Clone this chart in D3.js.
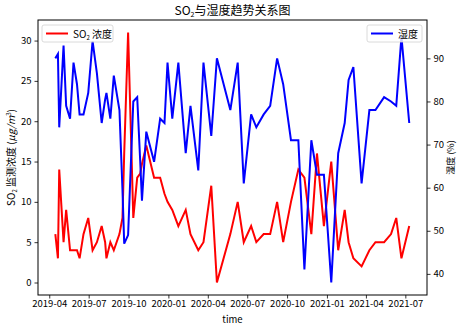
<!DOCTYPE html>
<html>
<head>
<meta charset="utf-8">
<script src="https://cdn.jsdelivr.net/npm/d3@7"></script>
<style>
  body { margin: 0; background: #fff; }
  text { font-family: "Noto Sans CJK SC", "DejaVu Sans", sans-serif; }
</style>
</head>
<body>
<div id="chart"></div>
<script>
// sample dates
var dates = ["2019-04-15","2019-04-21","2019-04-24","2019-05-04","2019-05-10","2019-05-19","2019-05-27",
  "2019-06-04","2019-06-10","2019-06-19","2019-06-30","2019-07-10","2019-07-20","2019-07-31","2019-08-08",
  "2019-08-11","2019-08-20","2019-08-28","2019-09-10","2019-09-17","2019-09-21","2019-09-30","2019-10-12",
  "2019-10-21","2019-10-28","2019-11-01","2019-11-11","2019-11-29","2019-12-13","2019-12-23","2019-12-30",
  "2020-01-10","2020-01-24","2020-02-10","2020-02-21","2020-03-10","2020-03-22","2020-04-09","2020-04-22",
  "2020-05-23","2020-06-09","2020-06-23","2020-07-10","2020-07-22","2020-08-08","2020-08-23","2020-09-08",
  "2020-09-22","2020-10-10","2020-10-27","2020-11-10","2020-11-26","2020-12-09","2020-12-25","2021-01-11",
  "2021-01-27","2021-02-11","2021-02-20","2021-03-03","2021-03-22","2021-04-09","2021-04-23","2021-05-13",
  "2021-05-29","2021-06-10","2021-06-22","2021-07-10"];

// SO2 concentration (left axis)
var so2 = [6,3,14,5,9,4,4,
  4,3,6,8,4,5,7,5,
  3,5,4,6,8,16,31,8,
  13,13.5,14.7,17,13,13,11,10,
  9,7,9,6,4,5,12,0,
  6,10,5,7,5,6,6,10,
  5,10,14,13,6,16,7,15,
  4,9,5,3,2,4,5,5,
  6,8,3,7];

// humidity (right axis)
var humidity = [90,91,74,93,79,76,89,
  84,77,77,82,94,86.5,75,80.5,
  82,76,86,78,59.5,47,49,80,
  81,66,57,73,66,76,75,89,
  76,89,68,79,64,89,72,90,
  78,89,61,77,74,77,79,90,
  84,71,71,41,71,63,63,38,
  68,75,85,88,61,78,78,81,
  80,79,95,75];

var leftTicks = [0,5,10,15,20,25,30];
var rightTicks = [40,50,60,70,80,90];
var xTicks = ["2019-04","2019-07","2019-10","2020-01","2020-04","2020-07","2020-10","2021-01","2021-04","2021-07"];

var W = 462, H = 327;
var m = {left: 38, right: 35, top: 20, bottom: 32};
var pw = W - m.left - m.right, ph = H - m.top - m.bottom;

var parse = d3.timeParse("%Y-%m-%d");
var parseM = d3.timeParse("%Y-%m");
var t = dates.map(parse);

var x = d3.scaleTime()
  .domain([parse("2019-03-06"), parse("2021-08-20")])
  .range([0, pw]);
var yL = d3.scaleLinear().domain([-1.55, 32.55]).range([ph, 0]);
var yR = d3.scaleLinear().domain([35.1, 98.9]).range([ph, 0]);

var svg = d3.select("#chart").append("svg")
  .attr("width", W).attr("height", H);

var g = svg.append("g").attr("transform", "translate(" + m.left + "," + m.top + ")");

var lineL = d3.line().x(function(d, i) { return x(t[i]); }).y(function(d) { return yL(d); });
var lineR = d3.line().x(function(d, i) { return x(t[i]); }).y(function(d) { return yR(d); });

g.append("path").datum(so2)
  .attr("d", lineL).attr("fill", "none").attr("stroke", "#ff0000").attr("stroke-width", 2);
g.append("path").datum(humidity)
  .attr("d", lineR).attr("fill", "none").attr("stroke", "#0000ff").attr("stroke-width", 2);

// axes
var ax = g.append("g").attr("transform", "translate(0," + ph + ")")
  .call(d3.axisBottom(x).tickValues(xTicks.map(parseM)).tickFormat(d3.timeFormat("%Y-%m")).tickSize(3.5).tickPadding(2));
var ayl = g.append("g")
  .call(d3.axisLeft(yL).tickValues(leftTicks).tickSize(3.5).tickPadding(3));
var ayr = g.append("g").attr("transform", "translate(" + pw + ",0)")
  .call(d3.axisRight(yR).tickValues(rightTicks).tickSize(3.5).tickPadding(3));

[ax, ayl, ayr].forEach(function(a) {
  a.select(".domain").remove();
  a.selectAll("text").attr("font-size", 9.5).attr("fill", "#000")
    .style("font-family", "'Noto Sans CJK SC', sans-serif");
  a.selectAll("line").attr("stroke", "#000").attr("stroke-width", 0.8);
});

g.append("rect").attr("width", pw).attr("height", ph)
  .attr("fill", "none").attr("stroke", "#000").attr("stroke-width", 1);

// title
var title = svg.append("text").attr("x", m.left + pw / 2).attr("y", 15)
  .attr("text-anchor", "middle").attr("font-size", 12);
title.append("tspan").text("SO");
title.append("tspan").text("2").attr("font-size", 7).attr("dy", 2);
title.append("tspan").text("与湿度趋势关系图").attr("dy", -2);

// x label
svg.append("text").attr("x", m.left + pw / 2).attr("y", 322.5)
  .attr("text-anchor", "middle").attr("font-size", 9.5).text("time");

// left y label
var yl = svg.append("text")
  .attr("transform", "translate(15," + (m.top + ph / 2) + ") rotate(-90)")
  .attr("text-anchor", "middle").attr("font-size", 10);
yl.append("tspan").text("SO");
yl.append("tspan").text("2").attr("font-size", 6).attr("dy", 2);
yl.append("tspan").text(" 监测浓度 (").attr("dy", -2);
yl.append("tspan").text("μg/m").attr("font-style", "italic");
yl.append("tspan").text("3").attr("font-size", 6).attr("dy", -4);
yl.append("tspan").text(")").attr("dy", 4);

// right y label
svg.append("text")
  .attr("transform", "translate(454," + (m.top + ph / 2) + ") rotate(-90)")
  .attr("text-anchor", "middle").attr("font-size", 9).text("湿度 (%)");

// legends
function legend(x0, w, color, build) {
  var lg = svg.append("g").attr("transform", "translate(" + x0 + ",25)");
  lg.append("rect").attr("width", w).attr("height", 17).attr("rx", 2)
    .attr("fill", "#fff").attr("fill-opacity", 0.8).attr("stroke", "#d0d0d0").attr("stroke-width", 0.8);
  lg.append("line").attr("x1", 4).attr("x2", 26).attr("y1", 8.5).attr("y2", 8.5)
    .attr("stroke", color).attr("stroke-width", 2);
  var tx = lg.append("text").attr("x", 31).attr("y", 12.5).attr("font-size", 10);
  build(tx);
}
legend(42, 71, "#ff0000", function(tx) {
  tx.append("tspan").text("SO");
  tx.append("tspan").text("2").attr("font-size", 6).attr("dy", 2);
  tx.append("tspan").text(" 浓度").attr("dy", -2);
});
legend(367, 55, "#0000ff", function(tx) { tx.text("湿度"); });
</script>
</body>
</html>
